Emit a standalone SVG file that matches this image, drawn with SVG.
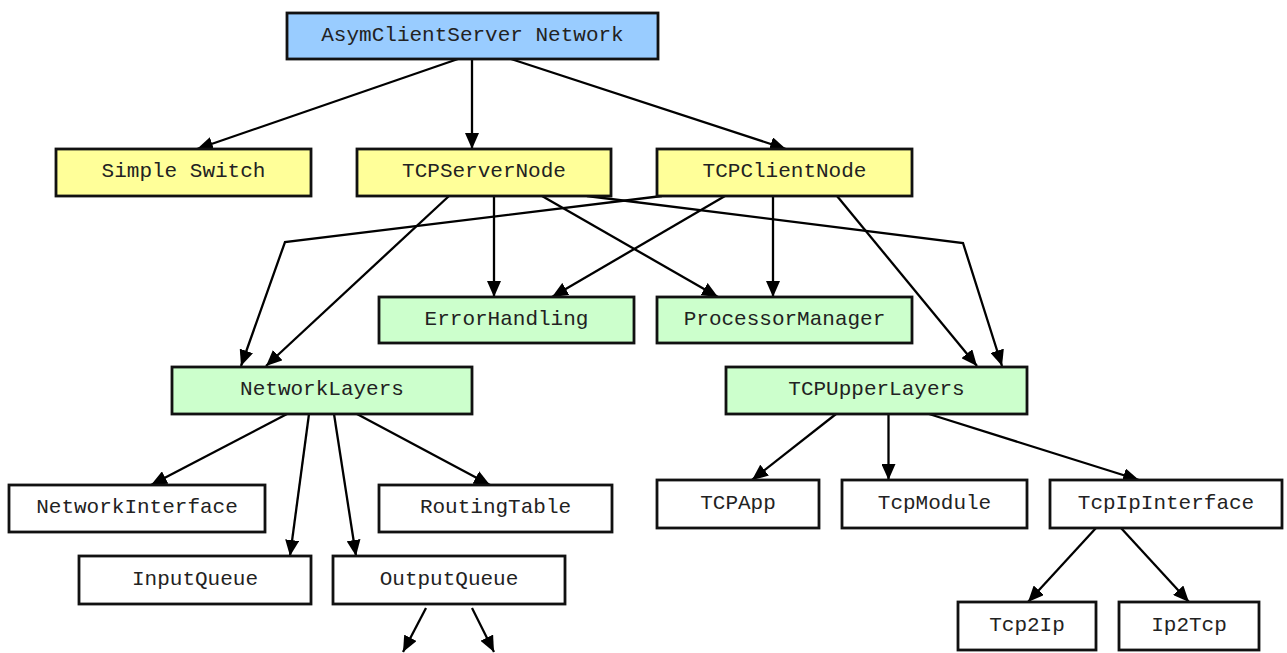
<svg xmlns="http://www.w3.org/2000/svg" width="1287" height="653" viewBox="0 0 1287 653">
<style>
.box{stroke:#111;stroke-width:2.8}
.blue{fill:#99CCFF}
.yellow{fill:#FFFF99}
.green{fill:#CCFFCC}
.white{fill:#FFFFFF}
.lbl{font-family:"Liberation Mono","Courier New",monospace;font-size:21px;fill:#222;text-anchor:middle}
.edge{fill:none;stroke:#000;stroke-width:2.3;marker-end:url(#arr)}
</style>
<defs>
<marker id="arr" markerUnits="userSpaceOnUse" markerWidth="17" markerHeight="14" refX="16" refY="7" orient="auto">
<path d="M0,0 L16,7 L0,14 z" fill="#000"/>
</marker>
</defs>
<rect width="1287" height="653" fill="#fff"/>
<g id="connectors">
<path class="edge" d="M458,59 L197,149"/>
<path class="edge" d="M472,59 L472,149"/>
<path class="edge" d="M511,59 L786,149"/>
<path class="edge" d="M449,196 L266,366"/>
<path class="edge" d="M494,196 L494,297"/>
<path class="edge" d="M542,196 L718,297"/>
<path class="edge" d="M587,196 L963,243 L1002,366"/>
<path class="edge" d="M662,196 L285,242 L241,366"/>
<path class="edge" d="M725,196 L552,297"/>
<path class="edge" d="M773,196 L773,297"/>
<path class="edge" d="M837,196 L977,366"/>
<path class="edge" d="M287,414 L151,485"/>
<path class="edge" d="M309,414 L290,556"/>
<path class="edge" d="M334,414 L356,556"/>
<path class="edge" d="M357,414 L490,485"/>
<path class="edge" d="M426,608 L403,652"/>
<path class="edge" d="M472,608 L494,652"/>
<path class="edge" d="M836,414 L752,480"/>
<path class="edge" d="M888.5,414 L888.5,480"/>
<path class="edge" d="M929,414 L1139,480"/>
<path class="edge" d="M1096,528 L1028,602"/>
<path class="edge" d="M1121,528 L1189,602"/>
</g>
<g id="root"><rect class="box blue" x="287" y="13" width="371" height="46"/><text class="lbl" x="472.5" y="40.5">AsymClientServer Network</text></g>
<g id="simpleSwitch"><rect class="box yellow" x="56" y="149" width="255" height="47"/><text class="lbl" x="183.5" y="177">Simple Switch</text></g>
<g id="tcpServerNode"><rect class="box yellow" x="357" y="149" width="254" height="47"/><text class="lbl" x="484" y="177">TCPServerNode</text></g>
<g id="tcpClientNode"><rect class="box yellow" x="657" y="149" width="255" height="47"/><text class="lbl" x="784.5" y="177">TCPClientNode</text></g>
<g id="errorHandling"><rect class="box green" x="379" y="297" width="255" height="46"/><text class="lbl" x="506.5" y="324.5">ErrorHandling</text></g>
<g id="processorManager"><rect class="box green" x="657" y="297" width="255" height="46"/><text class="lbl" x="784.5" y="324.5">ProcessorManager</text></g>
<g id="networkLayers"><rect class="box green" x="172" y="367" width="300" height="47"/><text class="lbl" x="322" y="395">NetworkLayers</text></g>
<g id="tcpUpperLayers"><rect class="box green" x="726" y="367" width="301" height="47"/><text class="lbl" x="876.5" y="395">TCPUpperLayers</text></g>
<g id="networkInterface"><rect class="box white" x="9" y="485" width="256" height="47"/><text class="lbl" x="137" y="513">NetworkInterface</text></g>
<g id="routingTable"><rect class="box white" x="379" y="485" width="233" height="47"/><text class="lbl" x="495.5" y="513">RoutingTable</text></g>
<g id="inputQueue"><rect class="box white" x="79" y="556" width="232" height="48"/><text class="lbl" x="195" y="584.5">InputQueue</text></g>
<g id="outputQueue"><rect class="box white" x="333" y="556" width="232" height="48"/><text class="lbl" x="449" y="584.5">OutputQueue</text></g>
<g id="tcpApp"><rect class="box white" x="657" y="480" width="162" height="48"/><text class="lbl" x="738" y="508.5">TCPApp</text></g>
<g id="tcpModule"><rect class="box white" x="842" y="480" width="185" height="48"/><text class="lbl" x="934.5" y="508.5">TcpModule</text></g>
<g id="tcpIpInterface"><rect class="box white" x="1050" y="480" width="232" height="48"/><text class="lbl" x="1166" y="508.5">TcpIpInterface</text></g>
<g id="tcp2Ip"><rect class="box white" x="958" y="602" width="138" height="48"/><text class="lbl" x="1027" y="630.5">Tcp2Ip</text></g>
<g id="ip2Tcp"><rect class="box white" x="1119" y="602" width="140" height="48"/><text class="lbl" x="1189" y="630.5">Ip2Tcp</text></g>
</svg>
